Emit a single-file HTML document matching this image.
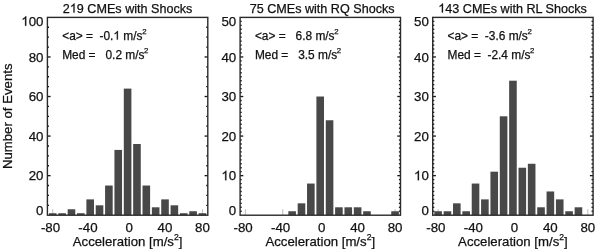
<!DOCTYPE html>
<html><head><meta charset="utf-8"><style>
html,body{margin:0;padding:0;background:#fff;}
body{width:600px;height:249px;overflow:hidden;}
svg{display:block;-webkit-font-smoothing:antialiased;will-change:transform;font-family:"Liberation Sans",sans-serif;}
text{fill:#111;stroke:#111;stroke-width:0.25px;}
.h1{fill-opacity:0;stroke-opacity:0;}
.one{fill:#111;stroke:#111;}
</style></head><body>
<svg width="600" height="249" viewBox="0 0 600 249">
<rect width="600" height="249" fill="#fff"/>
<line x1="52.75" y1="215.2" x2="52.75" y2="209.2" stroke="#bbb" stroke-width="1"/>
<line x1="90.18" y1="215.2" x2="90.18" y2="209.2" stroke="#bbb" stroke-width="1"/>
<line x1="127.6" y1="215.2" x2="127.6" y2="209.2" stroke="#bbb" stroke-width="1"/>
<line x1="165.02" y1="215.2" x2="165.02" y2="209.2" stroke="#bbb" stroke-width="1"/>
<line x1="202.45" y1="215.2" x2="202.45" y2="209.2" stroke="#bbb" stroke-width="1"/>
<rect x="48.95" y="213.22" width="7.6" height="1.98" fill="#484848"/>
<rect x="58.31" y="213.22" width="7.6" height="1.98" fill="#484848"/>
<rect x="67.66" y="209.27" width="7.6" height="5.93" fill="#484848"/>
<rect x="77.02" y="213.22" width="7.6" height="1.98" fill="#484848"/>
<rect x="86.38" y="199.38" width="7.6" height="15.82" fill="#484848"/>
<rect x="95.73" y="205.31" width="7.6" height="9.89" fill="#484848"/>
<rect x="105.09" y="185.53" width="7.6" height="29.67" fill="#484848"/>
<rect x="114.44" y="149.93" width="7.6" height="65.27" fill="#484848"/>
<rect x="123.8" y="88.61" width="7.6" height="126.59" fill="#484848"/>
<rect x="133.16" y="143.99" width="7.6" height="71.21" fill="#484848"/>
<rect x="142.51" y="185.53" width="7.6" height="29.67" fill="#484848"/>
<rect x="151.87" y="207.29" width="7.6" height="7.91" fill="#484848"/>
<rect x="161.22" y="199.38" width="7.6" height="15.82" fill="#484848"/>
<rect x="170.58" y="205.31" width="7.6" height="9.89" fill="#484848"/>
<rect x="179.94" y="213.22" width="7.6" height="1.98" fill="#484848"/>
<rect x="189.29" y="211.24" width="7.6" height="3.96" fill="#484848"/>
<rect x="198.65" y="213.22" width="7.6" height="1.98" fill="#484848"/>
<line x1="47.4" y1="205.31" x2="49" y2="205.31" stroke="#1a1a1a" stroke-width="1.35"/>
<line x1="207.8" y1="205.31" x2="206.2" y2="205.31" stroke="#1a1a1a" stroke-width="1.35"/>
<line x1="47.4" y1="195.42" x2="49" y2="195.42" stroke="#1a1a1a" stroke-width="1.35"/>
<line x1="207.8" y1="195.42" x2="206.2" y2="195.42" stroke="#1a1a1a" stroke-width="1.35"/>
<line x1="47.4" y1="185.53" x2="49" y2="185.53" stroke="#1a1a1a" stroke-width="1.35"/>
<line x1="207.8" y1="185.53" x2="206.2" y2="185.53" stroke="#1a1a1a" stroke-width="1.35"/>
<line x1="47.4" y1="175.64" x2="50.6" y2="175.64" stroke="#1a1a1a" stroke-width="1.35"/>
<line x1="207.8" y1="175.64" x2="204.6" y2="175.64" stroke="#1a1a1a" stroke-width="1.35"/>
<line x1="47.4" y1="165.75" x2="49" y2="165.75" stroke="#1a1a1a" stroke-width="1.35"/>
<line x1="207.8" y1="165.75" x2="206.2" y2="165.75" stroke="#1a1a1a" stroke-width="1.35"/>
<line x1="47.4" y1="155.86" x2="49" y2="155.86" stroke="#1a1a1a" stroke-width="1.35"/>
<line x1="207.8" y1="155.86" x2="206.2" y2="155.86" stroke="#1a1a1a" stroke-width="1.35"/>
<line x1="47.4" y1="145.97" x2="49" y2="145.97" stroke="#1a1a1a" stroke-width="1.35"/>
<line x1="207.8" y1="145.97" x2="206.2" y2="145.97" stroke="#1a1a1a" stroke-width="1.35"/>
<line x1="47.4" y1="136.08" x2="50.6" y2="136.08" stroke="#1a1a1a" stroke-width="1.35"/>
<line x1="207.8" y1="136.08" x2="204.6" y2="136.08" stroke="#1a1a1a" stroke-width="1.35"/>
<line x1="47.4" y1="126.19" x2="49" y2="126.19" stroke="#1a1a1a" stroke-width="1.35"/>
<line x1="207.8" y1="126.19" x2="206.2" y2="126.19" stroke="#1a1a1a" stroke-width="1.35"/>
<line x1="47.4" y1="116.3" x2="49" y2="116.3" stroke="#1a1a1a" stroke-width="1.35"/>
<line x1="207.8" y1="116.3" x2="206.2" y2="116.3" stroke="#1a1a1a" stroke-width="1.35"/>
<line x1="47.4" y1="106.41" x2="49" y2="106.41" stroke="#1a1a1a" stroke-width="1.35"/>
<line x1="207.8" y1="106.41" x2="206.2" y2="106.41" stroke="#1a1a1a" stroke-width="1.35"/>
<line x1="47.4" y1="96.52" x2="50.6" y2="96.52" stroke="#1a1a1a" stroke-width="1.35"/>
<line x1="207.8" y1="96.52" x2="204.6" y2="96.52" stroke="#1a1a1a" stroke-width="1.35"/>
<line x1="47.4" y1="86.63" x2="49" y2="86.63" stroke="#1a1a1a" stroke-width="1.35"/>
<line x1="207.8" y1="86.63" x2="206.2" y2="86.63" stroke="#1a1a1a" stroke-width="1.35"/>
<line x1="47.4" y1="76.74" x2="49" y2="76.74" stroke="#1a1a1a" stroke-width="1.35"/>
<line x1="207.8" y1="76.74" x2="206.2" y2="76.74" stroke="#1a1a1a" stroke-width="1.35"/>
<line x1="47.4" y1="66.85" x2="49" y2="66.85" stroke="#1a1a1a" stroke-width="1.35"/>
<line x1="207.8" y1="66.85" x2="206.2" y2="66.85" stroke="#1a1a1a" stroke-width="1.35"/>
<line x1="47.4" y1="56.96" x2="50.6" y2="56.96" stroke="#1a1a1a" stroke-width="1.35"/>
<line x1="207.8" y1="56.96" x2="204.6" y2="56.96" stroke="#1a1a1a" stroke-width="1.35"/>
<line x1="47.4" y1="47.07" x2="49" y2="47.07" stroke="#1a1a1a" stroke-width="1.35"/>
<line x1="207.8" y1="47.07" x2="206.2" y2="47.07" stroke="#1a1a1a" stroke-width="1.35"/>
<line x1="47.4" y1="37.18" x2="49" y2="37.18" stroke="#1a1a1a" stroke-width="1.35"/>
<line x1="207.8" y1="37.18" x2="206.2" y2="37.18" stroke="#1a1a1a" stroke-width="1.35"/>
<line x1="47.4" y1="27.29" x2="49" y2="27.29" stroke="#1a1a1a" stroke-width="1.35"/>
<line x1="207.8" y1="27.29" x2="206.2" y2="27.29" stroke="#1a1a1a" stroke-width="1.35"/>
<rect x="47.4" y="17.4" width="160.4" height="197.8" fill="none" stroke="#2a2a2a" stroke-width="1.4"/>
<text x="43.5" y="215" text-anchor="end" font-size="13.3">0</text>
<text x="43.5" y="180.24" text-anchor="end" font-size="13.3">20</text>
<text x="43.5" y="140.68" text-anchor="end" font-size="13.3">40</text>
<text x="43.5" y="101.12" text-anchor="end" font-size="13.3">60</text>
<text x="43.5" y="61.56" text-anchor="end" font-size="13.3">80</text>
<text x="43.5" y="25.8" text-anchor="end" font-size="13.3"><tspan class="h1">1</tspan>00</text>
<text x="52.75" y="231.7" text-anchor="middle" font-size="13.3"><tspan>80</tspan></text>
<text x="45.36" y="231.7" text-anchor="end" font-size="13.3">-</text>
<text x="90.18" y="231.7" text-anchor="middle" font-size="13.3"><tspan>40</tspan></text>
<text x="82.78" y="231.7" text-anchor="end" font-size="13.3">-</text>
<text x="129.1" y="231.7" text-anchor="middle" font-size="13.3">0</text>
<text x="165.02" y="231.7" text-anchor="middle" font-size="13.3">40</text>
<text x="202.45" y="231.7" text-anchor="middle" font-size="13.3">80</text>
<text x="127.6" y="12.6" text-anchor="middle" font-size="12.6">2<tspan class="h1">1</tspan>9 CMEs with Shocks</text>
<text x="62.2" y="39.6" font-size="11.9" xml:space="preserve">&lt;a&gt; =  -0.<tspan class="h1">1</tspan> m/s<tspan font-size="7.8" dx="-0.3" dy="-5.9">2</tspan></text>
<text x="62.2" y="58.6" font-size="11.9" xml:space="preserve">Med =   0.2 m/s<tspan font-size="7.8" dx="-0.5" dy="-5.9">2</tspan></text>
<text x="127.6" y="245.7" text-anchor="middle" font-size="13.2">Acceleration [m/s<tspan font-size="8.6" dy="-6">2</tspan><tspan dy="6">]</tspan></text>
<line x1="245.35" y1="215.2" x2="245.35" y2="209.2" stroke="#bbb" stroke-width="1"/>
<line x1="282.78" y1="215.2" x2="282.78" y2="209.2" stroke="#bbb" stroke-width="1"/>
<line x1="320.2" y1="215.2" x2="320.2" y2="209.2" stroke="#bbb" stroke-width="1"/>
<line x1="357.62" y1="215.2" x2="357.62" y2="209.2" stroke="#bbb" stroke-width="1"/>
<line x1="395.05" y1="215.2" x2="395.05" y2="209.2" stroke="#bbb" stroke-width="1"/>
<rect x="288.33" y="211.24" width="7.6" height="3.96" fill="#484848"/>
<rect x="297.69" y="203.33" width="7.6" height="11.87" fill="#484848"/>
<rect x="307.04" y="183.55" width="7.6" height="31.65" fill="#484848"/>
<rect x="316.4" y="96.52" width="7.6" height="118.68" fill="#484848"/>
<rect x="325.76" y="120.26" width="7.6" height="94.94" fill="#484848"/>
<rect x="335.11" y="207.29" width="7.6" height="7.91" fill="#484848"/>
<rect x="344.47" y="207.29" width="7.6" height="7.91" fill="#484848"/>
<rect x="353.82" y="207.29" width="7.6" height="7.91" fill="#484848"/>
<rect x="363.18" y="211.24" width="7.6" height="3.96" fill="#484848"/>
<rect x="391.25" y="211.24" width="7.6" height="3.96" fill="#484848"/>
<line x1="240.1" y1="211.24" x2="241.7" y2="211.24" stroke="#1a1a1a" stroke-width="1.35"/>
<line x1="400.5" y1="211.24" x2="398.9" y2="211.24" stroke="#1a1a1a" stroke-width="1.35"/>
<line x1="240.1" y1="207.29" x2="241.7" y2="207.29" stroke="#1a1a1a" stroke-width="1.35"/>
<line x1="400.5" y1="207.29" x2="398.9" y2="207.29" stroke="#1a1a1a" stroke-width="1.35"/>
<line x1="240.1" y1="203.33" x2="241.7" y2="203.33" stroke="#1a1a1a" stroke-width="1.35"/>
<line x1="400.5" y1="203.33" x2="398.9" y2="203.33" stroke="#1a1a1a" stroke-width="1.35"/>
<line x1="240.1" y1="199.38" x2="241.7" y2="199.38" stroke="#1a1a1a" stroke-width="1.35"/>
<line x1="400.5" y1="199.38" x2="398.9" y2="199.38" stroke="#1a1a1a" stroke-width="1.35"/>
<line x1="240.1" y1="195.42" x2="241.7" y2="195.42" stroke="#1a1a1a" stroke-width="1.35"/>
<line x1="400.5" y1="195.42" x2="398.9" y2="195.42" stroke="#1a1a1a" stroke-width="1.35"/>
<line x1="240.1" y1="191.46" x2="241.7" y2="191.46" stroke="#1a1a1a" stroke-width="1.35"/>
<line x1="400.5" y1="191.46" x2="398.9" y2="191.46" stroke="#1a1a1a" stroke-width="1.35"/>
<line x1="240.1" y1="187.51" x2="241.7" y2="187.51" stroke="#1a1a1a" stroke-width="1.35"/>
<line x1="400.5" y1="187.51" x2="398.9" y2="187.51" stroke="#1a1a1a" stroke-width="1.35"/>
<line x1="240.1" y1="183.55" x2="241.7" y2="183.55" stroke="#1a1a1a" stroke-width="1.35"/>
<line x1="400.5" y1="183.55" x2="398.9" y2="183.55" stroke="#1a1a1a" stroke-width="1.35"/>
<line x1="240.1" y1="179.6" x2="241.7" y2="179.6" stroke="#1a1a1a" stroke-width="1.35"/>
<line x1="400.5" y1="179.6" x2="398.9" y2="179.6" stroke="#1a1a1a" stroke-width="1.35"/>
<line x1="240.1" y1="175.64" x2="243.3" y2="175.64" stroke="#1a1a1a" stroke-width="1.35"/>
<line x1="400.5" y1="175.64" x2="397.3" y2="175.64" stroke="#1a1a1a" stroke-width="1.35"/>
<line x1="240.1" y1="171.68" x2="241.7" y2="171.68" stroke="#1a1a1a" stroke-width="1.35"/>
<line x1="400.5" y1="171.68" x2="398.9" y2="171.68" stroke="#1a1a1a" stroke-width="1.35"/>
<line x1="240.1" y1="167.73" x2="241.7" y2="167.73" stroke="#1a1a1a" stroke-width="1.35"/>
<line x1="400.5" y1="167.73" x2="398.9" y2="167.73" stroke="#1a1a1a" stroke-width="1.35"/>
<line x1="240.1" y1="163.77" x2="241.7" y2="163.77" stroke="#1a1a1a" stroke-width="1.35"/>
<line x1="400.5" y1="163.77" x2="398.9" y2="163.77" stroke="#1a1a1a" stroke-width="1.35"/>
<line x1="240.1" y1="159.82" x2="241.7" y2="159.82" stroke="#1a1a1a" stroke-width="1.35"/>
<line x1="400.5" y1="159.82" x2="398.9" y2="159.82" stroke="#1a1a1a" stroke-width="1.35"/>
<line x1="240.1" y1="155.86" x2="241.7" y2="155.86" stroke="#1a1a1a" stroke-width="1.35"/>
<line x1="400.5" y1="155.86" x2="398.9" y2="155.86" stroke="#1a1a1a" stroke-width="1.35"/>
<line x1="240.1" y1="151.9" x2="241.7" y2="151.9" stroke="#1a1a1a" stroke-width="1.35"/>
<line x1="400.5" y1="151.9" x2="398.9" y2="151.9" stroke="#1a1a1a" stroke-width="1.35"/>
<line x1="240.1" y1="147.95" x2="241.7" y2="147.95" stroke="#1a1a1a" stroke-width="1.35"/>
<line x1="400.5" y1="147.95" x2="398.9" y2="147.95" stroke="#1a1a1a" stroke-width="1.35"/>
<line x1="240.1" y1="143.99" x2="241.7" y2="143.99" stroke="#1a1a1a" stroke-width="1.35"/>
<line x1="400.5" y1="143.99" x2="398.9" y2="143.99" stroke="#1a1a1a" stroke-width="1.35"/>
<line x1="240.1" y1="140.04" x2="241.7" y2="140.04" stroke="#1a1a1a" stroke-width="1.35"/>
<line x1="400.5" y1="140.04" x2="398.9" y2="140.04" stroke="#1a1a1a" stroke-width="1.35"/>
<line x1="240.1" y1="136.08" x2="243.3" y2="136.08" stroke="#1a1a1a" stroke-width="1.35"/>
<line x1="400.5" y1="136.08" x2="397.3" y2="136.08" stroke="#1a1a1a" stroke-width="1.35"/>
<line x1="240.1" y1="132.12" x2="241.7" y2="132.12" stroke="#1a1a1a" stroke-width="1.35"/>
<line x1="400.5" y1="132.12" x2="398.9" y2="132.12" stroke="#1a1a1a" stroke-width="1.35"/>
<line x1="240.1" y1="128.17" x2="241.7" y2="128.17" stroke="#1a1a1a" stroke-width="1.35"/>
<line x1="400.5" y1="128.17" x2="398.9" y2="128.17" stroke="#1a1a1a" stroke-width="1.35"/>
<line x1="240.1" y1="124.21" x2="241.7" y2="124.21" stroke="#1a1a1a" stroke-width="1.35"/>
<line x1="400.5" y1="124.21" x2="398.9" y2="124.21" stroke="#1a1a1a" stroke-width="1.35"/>
<line x1="240.1" y1="120.26" x2="241.7" y2="120.26" stroke="#1a1a1a" stroke-width="1.35"/>
<line x1="400.5" y1="120.26" x2="398.9" y2="120.26" stroke="#1a1a1a" stroke-width="1.35"/>
<line x1="240.1" y1="116.3" x2="241.7" y2="116.3" stroke="#1a1a1a" stroke-width="1.35"/>
<line x1="400.5" y1="116.3" x2="398.9" y2="116.3" stroke="#1a1a1a" stroke-width="1.35"/>
<line x1="240.1" y1="112.34" x2="241.7" y2="112.34" stroke="#1a1a1a" stroke-width="1.35"/>
<line x1="400.5" y1="112.34" x2="398.9" y2="112.34" stroke="#1a1a1a" stroke-width="1.35"/>
<line x1="240.1" y1="108.39" x2="241.7" y2="108.39" stroke="#1a1a1a" stroke-width="1.35"/>
<line x1="400.5" y1="108.39" x2="398.9" y2="108.39" stroke="#1a1a1a" stroke-width="1.35"/>
<line x1="240.1" y1="104.43" x2="241.7" y2="104.43" stroke="#1a1a1a" stroke-width="1.35"/>
<line x1="400.5" y1="104.43" x2="398.9" y2="104.43" stroke="#1a1a1a" stroke-width="1.35"/>
<line x1="240.1" y1="100.48" x2="241.7" y2="100.48" stroke="#1a1a1a" stroke-width="1.35"/>
<line x1="400.5" y1="100.48" x2="398.9" y2="100.48" stroke="#1a1a1a" stroke-width="1.35"/>
<line x1="240.1" y1="96.52" x2="243.3" y2="96.52" stroke="#1a1a1a" stroke-width="1.35"/>
<line x1="400.5" y1="96.52" x2="397.3" y2="96.52" stroke="#1a1a1a" stroke-width="1.35"/>
<line x1="240.1" y1="92.56" x2="241.7" y2="92.56" stroke="#1a1a1a" stroke-width="1.35"/>
<line x1="400.5" y1="92.56" x2="398.9" y2="92.56" stroke="#1a1a1a" stroke-width="1.35"/>
<line x1="240.1" y1="88.61" x2="241.7" y2="88.61" stroke="#1a1a1a" stroke-width="1.35"/>
<line x1="400.5" y1="88.61" x2="398.9" y2="88.61" stroke="#1a1a1a" stroke-width="1.35"/>
<line x1="240.1" y1="84.65" x2="241.7" y2="84.65" stroke="#1a1a1a" stroke-width="1.35"/>
<line x1="400.5" y1="84.65" x2="398.9" y2="84.65" stroke="#1a1a1a" stroke-width="1.35"/>
<line x1="240.1" y1="80.7" x2="241.7" y2="80.7" stroke="#1a1a1a" stroke-width="1.35"/>
<line x1="400.5" y1="80.7" x2="398.9" y2="80.7" stroke="#1a1a1a" stroke-width="1.35"/>
<line x1="240.1" y1="76.74" x2="241.7" y2="76.74" stroke="#1a1a1a" stroke-width="1.35"/>
<line x1="400.5" y1="76.74" x2="398.9" y2="76.74" stroke="#1a1a1a" stroke-width="1.35"/>
<line x1="240.1" y1="72.78" x2="241.7" y2="72.78" stroke="#1a1a1a" stroke-width="1.35"/>
<line x1="400.5" y1="72.78" x2="398.9" y2="72.78" stroke="#1a1a1a" stroke-width="1.35"/>
<line x1="240.1" y1="68.83" x2="241.7" y2="68.83" stroke="#1a1a1a" stroke-width="1.35"/>
<line x1="400.5" y1="68.83" x2="398.9" y2="68.83" stroke="#1a1a1a" stroke-width="1.35"/>
<line x1="240.1" y1="64.87" x2="241.7" y2="64.87" stroke="#1a1a1a" stroke-width="1.35"/>
<line x1="400.5" y1="64.87" x2="398.9" y2="64.87" stroke="#1a1a1a" stroke-width="1.35"/>
<line x1="240.1" y1="60.92" x2="241.7" y2="60.92" stroke="#1a1a1a" stroke-width="1.35"/>
<line x1="400.5" y1="60.92" x2="398.9" y2="60.92" stroke="#1a1a1a" stroke-width="1.35"/>
<line x1="240.1" y1="56.96" x2="243.3" y2="56.96" stroke="#1a1a1a" stroke-width="1.35"/>
<line x1="400.5" y1="56.96" x2="397.3" y2="56.96" stroke="#1a1a1a" stroke-width="1.35"/>
<line x1="240.1" y1="53" x2="241.7" y2="53" stroke="#1a1a1a" stroke-width="1.35"/>
<line x1="400.5" y1="53" x2="398.9" y2="53" stroke="#1a1a1a" stroke-width="1.35"/>
<line x1="240.1" y1="49.05" x2="241.7" y2="49.05" stroke="#1a1a1a" stroke-width="1.35"/>
<line x1="400.5" y1="49.05" x2="398.9" y2="49.05" stroke="#1a1a1a" stroke-width="1.35"/>
<line x1="240.1" y1="45.09" x2="241.7" y2="45.09" stroke="#1a1a1a" stroke-width="1.35"/>
<line x1="400.5" y1="45.09" x2="398.9" y2="45.09" stroke="#1a1a1a" stroke-width="1.35"/>
<line x1="240.1" y1="41.14" x2="241.7" y2="41.14" stroke="#1a1a1a" stroke-width="1.35"/>
<line x1="400.5" y1="41.14" x2="398.9" y2="41.14" stroke="#1a1a1a" stroke-width="1.35"/>
<line x1="240.1" y1="37.18" x2="241.7" y2="37.18" stroke="#1a1a1a" stroke-width="1.35"/>
<line x1="400.5" y1="37.18" x2="398.9" y2="37.18" stroke="#1a1a1a" stroke-width="1.35"/>
<line x1="240.1" y1="33.22" x2="241.7" y2="33.22" stroke="#1a1a1a" stroke-width="1.35"/>
<line x1="400.5" y1="33.22" x2="398.9" y2="33.22" stroke="#1a1a1a" stroke-width="1.35"/>
<line x1="240.1" y1="29.27" x2="241.7" y2="29.27" stroke="#1a1a1a" stroke-width="1.35"/>
<line x1="400.5" y1="29.27" x2="398.9" y2="29.27" stroke="#1a1a1a" stroke-width="1.35"/>
<line x1="240.1" y1="25.31" x2="241.7" y2="25.31" stroke="#1a1a1a" stroke-width="1.35"/>
<line x1="400.5" y1="25.31" x2="398.9" y2="25.31" stroke="#1a1a1a" stroke-width="1.35"/>
<line x1="240.1" y1="21.36" x2="241.7" y2="21.36" stroke="#1a1a1a" stroke-width="1.35"/>
<line x1="400.5" y1="21.36" x2="398.9" y2="21.36" stroke="#1a1a1a" stroke-width="1.35"/>
<rect x="240.1" y="17.4" width="160.4" height="197.8" fill="none" stroke="#2a2a2a" stroke-width="1.4"/>
<text x="236.2" y="215" text-anchor="end" font-size="13.3">0</text>
<text x="236.2" y="180.24" text-anchor="end" font-size="13.3"><tspan class="h1">1</tspan>0</text>
<text x="236.2" y="140.68" text-anchor="end" font-size="13.3">20</text>
<text x="236.2" y="101.12" text-anchor="end" font-size="13.3">30</text>
<text x="236.2" y="61.56" text-anchor="end" font-size="13.3">40</text>
<text x="236.2" y="25.8" text-anchor="end" font-size="13.3">50</text>
<text x="245.35" y="231.7" text-anchor="middle" font-size="13.3"><tspan>80</tspan></text>
<text x="237.96" y="231.7" text-anchor="end" font-size="13.3">-</text>
<text x="282.78" y="231.7" text-anchor="middle" font-size="13.3"><tspan>40</tspan></text>
<text x="275.38" y="231.7" text-anchor="end" font-size="13.3">-</text>
<text x="321.7" y="231.7" text-anchor="middle" font-size="13.3">0</text>
<text x="357.62" y="231.7" text-anchor="middle" font-size="13.3">40</text>
<text x="395.05" y="231.7" text-anchor="middle" font-size="13.3">80</text>
<text x="322.1" y="12.6" text-anchor="middle" font-size="12.6">75 CMEs with RQ Shocks</text>
<text x="254.9" y="39.6" font-size="11.9" xml:space="preserve">&lt;a&gt; =   6.8 m/s<tspan font-size="7.8" dx="-0.3" dy="-5.9">2</tspan></text>
<text x="254.9" y="58.6" font-size="11.9" xml:space="preserve">Med =   3.5 m/s<tspan font-size="7.8" dx="-0.5" dy="-5.9">2</tspan></text>
<text x="320.3" y="245.7" text-anchor="middle" font-size="13.2">Acceleration [m/s<tspan font-size="8.6" dy="-6">2</tspan><tspan dy="6">]</tspan></text>
<line x1="438.1" y1="215.2" x2="438.1" y2="209.2" stroke="#bbb" stroke-width="1"/>
<line x1="475.53" y1="215.2" x2="475.53" y2="209.2" stroke="#bbb" stroke-width="1"/>
<line x1="512.95" y1="215.2" x2="512.95" y2="209.2" stroke="#bbb" stroke-width="1"/>
<line x1="550.37" y1="215.2" x2="550.37" y2="209.2" stroke="#bbb" stroke-width="1"/>
<line x1="587.8" y1="215.2" x2="587.8" y2="209.2" stroke="#bbb" stroke-width="1"/>
<rect x="434.3" y="211.24" width="7.6" height="3.96" fill="#484848"/>
<rect x="443.66" y="211.24" width="7.6" height="3.96" fill="#484848"/>
<rect x="453.01" y="203.33" width="7.6" height="11.87" fill="#484848"/>
<rect x="462.37" y="211.24" width="7.6" height="3.96" fill="#484848"/>
<rect x="471.73" y="183.55" width="7.6" height="31.65" fill="#484848"/>
<rect x="481.08" y="199.38" width="7.6" height="15.82" fill="#484848"/>
<rect x="490.44" y="171.68" width="7.6" height="43.52" fill="#484848"/>
<rect x="499.79" y="116.3" width="7.6" height="98.9" fill="#484848"/>
<rect x="509.15" y="80.7" width="7.6" height="134.5" fill="#484848"/>
<rect x="518.51" y="167.73" width="7.6" height="47.47" fill="#484848"/>
<rect x="527.86" y="163.77" width="7.6" height="51.43" fill="#484848"/>
<rect x="537.22" y="207.29" width="7.6" height="7.91" fill="#484848"/>
<rect x="546.57" y="191.46" width="7.6" height="23.74" fill="#484848"/>
<rect x="555.93" y="199.38" width="7.6" height="15.82" fill="#484848"/>
<rect x="565.29" y="211.24" width="7.6" height="3.96" fill="#484848"/>
<rect x="574.64" y="207.29" width="7.6" height="7.91" fill="#484848"/>
<line x1="432.7" y1="211.24" x2="434.3" y2="211.24" stroke="#1a1a1a" stroke-width="1.35"/>
<line x1="593.1" y1="211.24" x2="591.5" y2="211.24" stroke="#1a1a1a" stroke-width="1.35"/>
<line x1="432.7" y1="207.29" x2="434.3" y2="207.29" stroke="#1a1a1a" stroke-width="1.35"/>
<line x1="593.1" y1="207.29" x2="591.5" y2="207.29" stroke="#1a1a1a" stroke-width="1.35"/>
<line x1="432.7" y1="203.33" x2="434.3" y2="203.33" stroke="#1a1a1a" stroke-width="1.35"/>
<line x1="593.1" y1="203.33" x2="591.5" y2="203.33" stroke="#1a1a1a" stroke-width="1.35"/>
<line x1="432.7" y1="199.38" x2="434.3" y2="199.38" stroke="#1a1a1a" stroke-width="1.35"/>
<line x1="593.1" y1="199.38" x2="591.5" y2="199.38" stroke="#1a1a1a" stroke-width="1.35"/>
<line x1="432.7" y1="195.42" x2="434.3" y2="195.42" stroke="#1a1a1a" stroke-width="1.35"/>
<line x1="593.1" y1="195.42" x2="591.5" y2="195.42" stroke="#1a1a1a" stroke-width="1.35"/>
<line x1="432.7" y1="191.46" x2="434.3" y2="191.46" stroke="#1a1a1a" stroke-width="1.35"/>
<line x1="593.1" y1="191.46" x2="591.5" y2="191.46" stroke="#1a1a1a" stroke-width="1.35"/>
<line x1="432.7" y1="187.51" x2="434.3" y2="187.51" stroke="#1a1a1a" stroke-width="1.35"/>
<line x1="593.1" y1="187.51" x2="591.5" y2="187.51" stroke="#1a1a1a" stroke-width="1.35"/>
<line x1="432.7" y1="183.55" x2="434.3" y2="183.55" stroke="#1a1a1a" stroke-width="1.35"/>
<line x1="593.1" y1="183.55" x2="591.5" y2="183.55" stroke="#1a1a1a" stroke-width="1.35"/>
<line x1="432.7" y1="179.6" x2="434.3" y2="179.6" stroke="#1a1a1a" stroke-width="1.35"/>
<line x1="593.1" y1="179.6" x2="591.5" y2="179.6" stroke="#1a1a1a" stroke-width="1.35"/>
<line x1="432.7" y1="175.64" x2="435.9" y2="175.64" stroke="#1a1a1a" stroke-width="1.35"/>
<line x1="593.1" y1="175.64" x2="589.9" y2="175.64" stroke="#1a1a1a" stroke-width="1.35"/>
<line x1="432.7" y1="171.68" x2="434.3" y2="171.68" stroke="#1a1a1a" stroke-width="1.35"/>
<line x1="593.1" y1="171.68" x2="591.5" y2="171.68" stroke="#1a1a1a" stroke-width="1.35"/>
<line x1="432.7" y1="167.73" x2="434.3" y2="167.73" stroke="#1a1a1a" stroke-width="1.35"/>
<line x1="593.1" y1="167.73" x2="591.5" y2="167.73" stroke="#1a1a1a" stroke-width="1.35"/>
<line x1="432.7" y1="163.77" x2="434.3" y2="163.77" stroke="#1a1a1a" stroke-width="1.35"/>
<line x1="593.1" y1="163.77" x2="591.5" y2="163.77" stroke="#1a1a1a" stroke-width="1.35"/>
<line x1="432.7" y1="159.82" x2="434.3" y2="159.82" stroke="#1a1a1a" stroke-width="1.35"/>
<line x1="593.1" y1="159.82" x2="591.5" y2="159.82" stroke="#1a1a1a" stroke-width="1.35"/>
<line x1="432.7" y1="155.86" x2="434.3" y2="155.86" stroke="#1a1a1a" stroke-width="1.35"/>
<line x1="593.1" y1="155.86" x2="591.5" y2="155.86" stroke="#1a1a1a" stroke-width="1.35"/>
<line x1="432.7" y1="151.9" x2="434.3" y2="151.9" stroke="#1a1a1a" stroke-width="1.35"/>
<line x1="593.1" y1="151.9" x2="591.5" y2="151.9" stroke="#1a1a1a" stroke-width="1.35"/>
<line x1="432.7" y1="147.95" x2="434.3" y2="147.95" stroke="#1a1a1a" stroke-width="1.35"/>
<line x1="593.1" y1="147.95" x2="591.5" y2="147.95" stroke="#1a1a1a" stroke-width="1.35"/>
<line x1="432.7" y1="143.99" x2="434.3" y2="143.99" stroke="#1a1a1a" stroke-width="1.35"/>
<line x1="593.1" y1="143.99" x2="591.5" y2="143.99" stroke="#1a1a1a" stroke-width="1.35"/>
<line x1="432.7" y1="140.04" x2="434.3" y2="140.04" stroke="#1a1a1a" stroke-width="1.35"/>
<line x1="593.1" y1="140.04" x2="591.5" y2="140.04" stroke="#1a1a1a" stroke-width="1.35"/>
<line x1="432.7" y1="136.08" x2="435.9" y2="136.08" stroke="#1a1a1a" stroke-width="1.35"/>
<line x1="593.1" y1="136.08" x2="589.9" y2="136.08" stroke="#1a1a1a" stroke-width="1.35"/>
<line x1="432.7" y1="132.12" x2="434.3" y2="132.12" stroke="#1a1a1a" stroke-width="1.35"/>
<line x1="593.1" y1="132.12" x2="591.5" y2="132.12" stroke="#1a1a1a" stroke-width="1.35"/>
<line x1="432.7" y1="128.17" x2="434.3" y2="128.17" stroke="#1a1a1a" stroke-width="1.35"/>
<line x1="593.1" y1="128.17" x2="591.5" y2="128.17" stroke="#1a1a1a" stroke-width="1.35"/>
<line x1="432.7" y1="124.21" x2="434.3" y2="124.21" stroke="#1a1a1a" stroke-width="1.35"/>
<line x1="593.1" y1="124.21" x2="591.5" y2="124.21" stroke="#1a1a1a" stroke-width="1.35"/>
<line x1="432.7" y1="120.26" x2="434.3" y2="120.26" stroke="#1a1a1a" stroke-width="1.35"/>
<line x1="593.1" y1="120.26" x2="591.5" y2="120.26" stroke="#1a1a1a" stroke-width="1.35"/>
<line x1="432.7" y1="116.3" x2="434.3" y2="116.3" stroke="#1a1a1a" stroke-width="1.35"/>
<line x1="593.1" y1="116.3" x2="591.5" y2="116.3" stroke="#1a1a1a" stroke-width="1.35"/>
<line x1="432.7" y1="112.34" x2="434.3" y2="112.34" stroke="#1a1a1a" stroke-width="1.35"/>
<line x1="593.1" y1="112.34" x2="591.5" y2="112.34" stroke="#1a1a1a" stroke-width="1.35"/>
<line x1="432.7" y1="108.39" x2="434.3" y2="108.39" stroke="#1a1a1a" stroke-width="1.35"/>
<line x1="593.1" y1="108.39" x2="591.5" y2="108.39" stroke="#1a1a1a" stroke-width="1.35"/>
<line x1="432.7" y1="104.43" x2="434.3" y2="104.43" stroke="#1a1a1a" stroke-width="1.35"/>
<line x1="593.1" y1="104.43" x2="591.5" y2="104.43" stroke="#1a1a1a" stroke-width="1.35"/>
<line x1="432.7" y1="100.48" x2="434.3" y2="100.48" stroke="#1a1a1a" stroke-width="1.35"/>
<line x1="593.1" y1="100.48" x2="591.5" y2="100.48" stroke="#1a1a1a" stroke-width="1.35"/>
<line x1="432.7" y1="96.52" x2="435.9" y2="96.52" stroke="#1a1a1a" stroke-width="1.35"/>
<line x1="593.1" y1="96.52" x2="589.9" y2="96.52" stroke="#1a1a1a" stroke-width="1.35"/>
<line x1="432.7" y1="92.56" x2="434.3" y2="92.56" stroke="#1a1a1a" stroke-width="1.35"/>
<line x1="593.1" y1="92.56" x2="591.5" y2="92.56" stroke="#1a1a1a" stroke-width="1.35"/>
<line x1="432.7" y1="88.61" x2="434.3" y2="88.61" stroke="#1a1a1a" stroke-width="1.35"/>
<line x1="593.1" y1="88.61" x2="591.5" y2="88.61" stroke="#1a1a1a" stroke-width="1.35"/>
<line x1="432.7" y1="84.65" x2="434.3" y2="84.65" stroke="#1a1a1a" stroke-width="1.35"/>
<line x1="593.1" y1="84.65" x2="591.5" y2="84.65" stroke="#1a1a1a" stroke-width="1.35"/>
<line x1="432.7" y1="80.7" x2="434.3" y2="80.7" stroke="#1a1a1a" stroke-width="1.35"/>
<line x1="593.1" y1="80.7" x2="591.5" y2="80.7" stroke="#1a1a1a" stroke-width="1.35"/>
<line x1="432.7" y1="76.74" x2="434.3" y2="76.74" stroke="#1a1a1a" stroke-width="1.35"/>
<line x1="593.1" y1="76.74" x2="591.5" y2="76.74" stroke="#1a1a1a" stroke-width="1.35"/>
<line x1="432.7" y1="72.78" x2="434.3" y2="72.78" stroke="#1a1a1a" stroke-width="1.35"/>
<line x1="593.1" y1="72.78" x2="591.5" y2="72.78" stroke="#1a1a1a" stroke-width="1.35"/>
<line x1="432.7" y1="68.83" x2="434.3" y2="68.83" stroke="#1a1a1a" stroke-width="1.35"/>
<line x1="593.1" y1="68.83" x2="591.5" y2="68.83" stroke="#1a1a1a" stroke-width="1.35"/>
<line x1="432.7" y1="64.87" x2="434.3" y2="64.87" stroke="#1a1a1a" stroke-width="1.35"/>
<line x1="593.1" y1="64.87" x2="591.5" y2="64.87" stroke="#1a1a1a" stroke-width="1.35"/>
<line x1="432.7" y1="60.92" x2="434.3" y2="60.92" stroke="#1a1a1a" stroke-width="1.35"/>
<line x1="593.1" y1="60.92" x2="591.5" y2="60.92" stroke="#1a1a1a" stroke-width="1.35"/>
<line x1="432.7" y1="56.96" x2="435.9" y2="56.96" stroke="#1a1a1a" stroke-width="1.35"/>
<line x1="593.1" y1="56.96" x2="589.9" y2="56.96" stroke="#1a1a1a" stroke-width="1.35"/>
<line x1="432.7" y1="53" x2="434.3" y2="53" stroke="#1a1a1a" stroke-width="1.35"/>
<line x1="593.1" y1="53" x2="591.5" y2="53" stroke="#1a1a1a" stroke-width="1.35"/>
<line x1="432.7" y1="49.05" x2="434.3" y2="49.05" stroke="#1a1a1a" stroke-width="1.35"/>
<line x1="593.1" y1="49.05" x2="591.5" y2="49.05" stroke="#1a1a1a" stroke-width="1.35"/>
<line x1="432.7" y1="45.09" x2="434.3" y2="45.09" stroke="#1a1a1a" stroke-width="1.35"/>
<line x1="593.1" y1="45.09" x2="591.5" y2="45.09" stroke="#1a1a1a" stroke-width="1.35"/>
<line x1="432.7" y1="41.14" x2="434.3" y2="41.14" stroke="#1a1a1a" stroke-width="1.35"/>
<line x1="593.1" y1="41.14" x2="591.5" y2="41.14" stroke="#1a1a1a" stroke-width="1.35"/>
<line x1="432.7" y1="37.18" x2="434.3" y2="37.18" stroke="#1a1a1a" stroke-width="1.35"/>
<line x1="593.1" y1="37.18" x2="591.5" y2="37.18" stroke="#1a1a1a" stroke-width="1.35"/>
<line x1="432.7" y1="33.22" x2="434.3" y2="33.22" stroke="#1a1a1a" stroke-width="1.35"/>
<line x1="593.1" y1="33.22" x2="591.5" y2="33.22" stroke="#1a1a1a" stroke-width="1.35"/>
<line x1="432.7" y1="29.27" x2="434.3" y2="29.27" stroke="#1a1a1a" stroke-width="1.35"/>
<line x1="593.1" y1="29.27" x2="591.5" y2="29.27" stroke="#1a1a1a" stroke-width="1.35"/>
<line x1="432.7" y1="25.31" x2="434.3" y2="25.31" stroke="#1a1a1a" stroke-width="1.35"/>
<line x1="593.1" y1="25.31" x2="591.5" y2="25.31" stroke="#1a1a1a" stroke-width="1.35"/>
<line x1="432.7" y1="21.36" x2="434.3" y2="21.36" stroke="#1a1a1a" stroke-width="1.35"/>
<line x1="593.1" y1="21.36" x2="591.5" y2="21.36" stroke="#1a1a1a" stroke-width="1.35"/>
<rect x="432.7" y="17.4" width="160.4" height="197.8" fill="none" stroke="#2a2a2a" stroke-width="1.4"/>
<text x="428.8" y="215" text-anchor="end" font-size="13.3">0</text>
<text x="428.8" y="180.24" text-anchor="end" font-size="13.3"><tspan class="h1">1</tspan>0</text>
<text x="428.8" y="140.68" text-anchor="end" font-size="13.3">20</text>
<text x="428.8" y="101.12" text-anchor="end" font-size="13.3">30</text>
<text x="428.8" y="61.56" text-anchor="end" font-size="13.3">40</text>
<text x="428.8" y="25.8" text-anchor="end" font-size="13.3">50</text>
<text x="438.1" y="231.7" text-anchor="middle" font-size="13.3"><tspan>80</tspan></text>
<text x="430.71" y="231.7" text-anchor="end" font-size="13.3">-</text>
<text x="475.53" y="231.7" text-anchor="middle" font-size="13.3"><tspan>40</tspan></text>
<text x="468.13" y="231.7" text-anchor="end" font-size="13.3">-</text>
<text x="514.45" y="231.7" text-anchor="middle" font-size="13.3">0</text>
<text x="550.37" y="231.7" text-anchor="middle" font-size="13.3">40</text>
<text x="587.8" y="231.7" text-anchor="middle" font-size="13.3">80</text>
<text x="512.6" y="12.6" text-anchor="middle" font-size="12.6"><tspan class="h1">1</tspan>43 CMEs with RL Shocks</text>
<text x="447.5" y="39.6" font-size="11.9" xml:space="preserve">&lt;a&gt; =  -3.6 m/s<tspan font-size="7.8" dx="-0.3" dy="-5.9">2</tspan></text>
<text x="447.5" y="58.6" font-size="11.9" xml:space="preserve">Med =  -2.4 m/s<tspan font-size="7.8" dx="-0.5" dy="-5.9">2</tspan></text>
<text x="512.9" y="245.7" text-anchor="middle" font-size="13.2">Acceleration [m/s<tspan font-size="8.6" dy="-6">2</tspan><tspan dy="6">]</tspan></text>
<text transform="translate(12,116.3) rotate(-90)" text-anchor="middle" font-size="13.2">Number of Events</text>
<path class="one" transform="translate(21.30,25.80) scale(0.006494,-0.006494)" d="M763 0H583V1147Q518 1085 412 1023Q306 961 221 930V1104Q375 1176 490 1278Q605 1380 653 1476H763Z" stroke-width="38.5"/>
<path class="one" transform="translate(69.86,12.60) scale(0.006152,-0.006152)" d="M763 0H583V1147Q518 1085 412 1023Q306 961 221 930V1104Q375 1176 490 1278Q605 1380 653 1476H763Z" stroke-width="40.6"/>
<path class="one" transform="translate(113.43,39.60) scale(0.005811,-0.005811)" d="M763 0H583V1147Q518 1085 412 1023Q306 961 221 930V1104Q375 1176 490 1278Q605 1380 653 1476H763Z" stroke-width="43.0"/>
<path class="one" transform="translate(221.39,180.24) scale(0.006494,-0.006494)" d="M763 0H583V1147Q518 1085 412 1023Q306 961 221 930V1104Q375 1176 490 1278Q605 1380 653 1476H763Z" stroke-width="38.5"/>
<path class="one" transform="translate(413.99,180.24) scale(0.006494,-0.006494)" d="M763 0H583V1147Q518 1085 412 1023Q306 961 221 930V1104Q375 1176 490 1278Q605 1380 653 1476H763Z" stroke-width="38.5"/>
<path class="one" transform="translate(438.28,12.60) scale(0.006152,-0.006152)" d="M763 0H583V1147Q518 1085 412 1023Q306 961 221 930V1104Q375 1176 490 1278Q605 1380 653 1476H763Z" stroke-width="40.6"/>
</svg>
</body></html>
